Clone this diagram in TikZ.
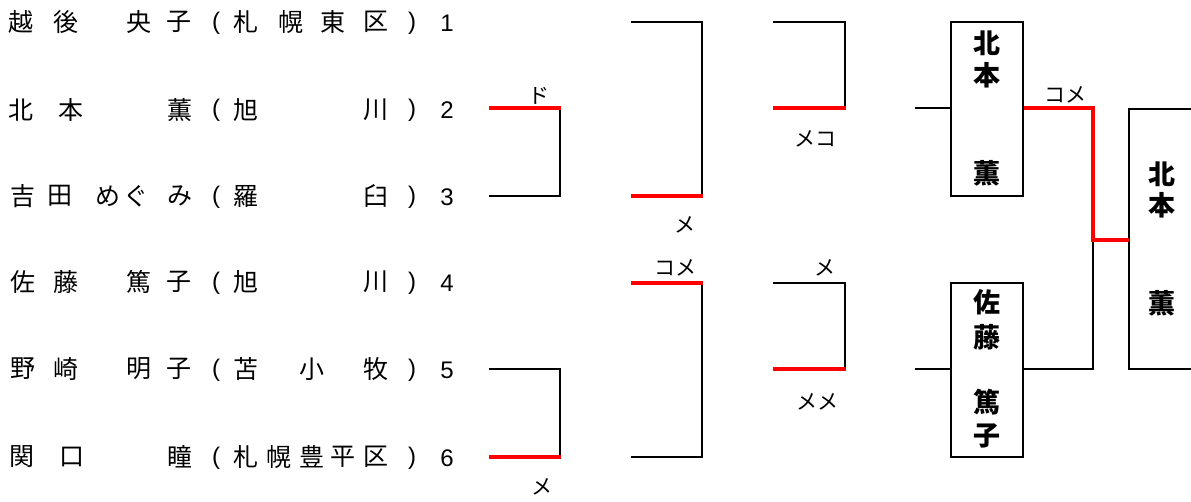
\documentclass[tikz,border=0pt]{standalone}
\usepackage{fontspec}
\newfontfamily\jp{Noto Sans CJK JP}
\newfontfamily\lat{Liberation Sans}
\begin{document}
\begin{tikzpicture}[x=1pt,y=-1pt,
  nm/.style={font=\jp\fontsize{25}{25}\selectfont, inner sep=0pt, anchor=center},
  pr/.style={font=\lat\fontsize{24}{24}\selectfont, inner sep=0pt, anchor=center},
  lb/.style={font=\jp\fontsize{21}{21}\selectfont, inner sep=0pt, anchor=center},
  bx/.style={font=\jp\bfseries\fontsize{27}{27}\selectfont, inner sep=0pt, anchor=center},
  bk/.style={draw=black, line width=2.4pt},
  rd/.style={draw=red, line width=3.6pt},
  box/.style={draw=black, line width=2.4pt, rectangle, inner sep=0pt}]
\useasboundingbox (0,0) rectangle (1191,501);
\fill[white] (0,0) rectangle (1191,501);
% names
\foreach \x/\c [count=\i] in {21/越,66/後,139/央,179/子,246/札,291/幌,333/東,376/区}
  \node[nm] (ra\i) at (\x,22) {\c};
\foreach \x/\c [count=\i] in {21/北,71/本,180/薫,246/旭,376/川}
  \node[nm] (rb\i) at (\x,110) {\c};
\foreach \x/\c [count=\i] in {23/吉,60/田,108/め,136/ぐ,180/み,246/羅,376/臼}
  \node[nm] (rc\i) at (\x,196) {\c};
\foreach \x/\c [count=\i] in {23/佐,66/藤,139/篤,179/子,246/旭,376/川}
  \node[nm] (rd\i) at (\x,282) {\c};
\foreach \x/\c [count=\i] in {23/野,66/崎,139/明,179/子,246/苫,312/小,376/牧}
  \node[nm] (re\i) at (\x,369) {\c};
\foreach \x/\c [count=\i] in {22/関,72/口,180/瞳,246/札,279/幌,312/豊,343/平,376/区}
  \node[nm] (rf\i) at (\x,457) {\c};
\foreach \y [count=\i] in {23,110,197,283,370,458} {
  \node[pr] (lp\i) at (216,\y) {(};
  \node[pr] (rp\i) at (412,\y) {)};
  \node[pr] (no\i) at (447,\y) {\i};
}
% coordinates
\coordinate (a1) at (489,108); \coordinate (a2) at (560,108);
\coordinate (a3) at (489,196); \coordinate (a4) at (560,196);
\coordinate (b1) at (489,369); \coordinate (b2) at (560,369);
\coordinate (b3) at (489,457); \coordinate (b4) at (560,457);
\coordinate (c1) at (631,22); \coordinate (c2) at (702,22);
\coordinate (c3) at (631,196); \coordinate (c4) at (702,196);
\coordinate (d1) at (631,283); \coordinate (d2) at (702,283);
\coordinate (d3) at (631,457); \coordinate (d4) at (702,457);
\coordinate (e1) at (773,22); \coordinate (e2) at (845,22);
\coordinate (e3) at (773,108); \coordinate (e4) at (845,108);
\coordinate (f1) at (773,283); \coordinate (f2) at (845,283);
\coordinate (f3) at (773,369); \coordinate (f4) at (845,369);
% round 1
\draw[bk] (a2) -- (a4) -- (a3);
\draw[rd] (a1) -- ([xshift=1.2pt]a2);
\draw[bk] (b1) -- (b2) -- (b4);
\draw[rd] (b3) -- ([xshift=1.2pt]b4);
% round 2
\draw[bk] (c1) -- (c2) -- (c4);
\draw[rd] (c3) -- ([xshift=1.2pt]c4);
\draw[bk] (d2) -- (d4) -- (d3);
\draw[rd] (d1) -- ([xshift=1.2pt]d2);
% round 3
\draw[bk] (e1) -- (e2) -- (e4);
\draw[rd] (e3) -- ([xshift=1.2pt]e4);
\draw[bk] (f1) -- (f2) -- (f4);
\draw[rd] (f3) -- ([xshift=1.2pt]f4);
% labels
\node[lb] (l1) at (539,96) {ド};
\node[lb] (l2) at (685,225) {メ};
\node[lb] (l3) at (675,268) {コメ};
\node[lb] (l4) at (815,139) {メコ};
\node[lb] (l5) at (825,268) {メ};
\node[lb] (l6) at (817,402) {メメ};
\node[lb] (l7) at (542,487) {メ};
\node[lb] (l8) at (1065,95) {コメ};
% boxes
\node[box, minimum width=72pt, minimum height=174pt] (k1) at (987,109) {};
\node[box, minimum width=72pt, minimum height=174pt] (k2) at (987,370) {};
\coordinate (g1) at (915,108); \coordinate (g2) at (915,369);
\draw[bk] (g1) -- (k1.west |- g1);
\draw[bk] (g2) -- (k2.west |- g2);
\coordinate (h1) at (1093,108); \coordinate (h2) at (1093,240);
\coordinate (h3) at (1093,369); \coordinate (h4) at (1129,240);
\coordinate (fa) at (1200,109); \coordinate (fb) at (1129,109);
\coordinate (fc) at (1129,369); \coordinate (fd) at (1200,369);
\draw[bk] (k2.east |- h3) -- (h3) -- (h2);
\draw[bk] (fa) -- (fb) -- (fc) -- (fd);
\draw[rd, line join=miter] (k1.east |- h1) -- (h1) -- (h2) -- (h4);
% box texts
\node[bx] (t1) at (987,43) {北};
\node[bx] (t2) at (987,75) {本};
\node[bx] (t3) at (987,173) {薫};
\node[bx] (t4) at (987,302) {佐};
\node[bx] (t5) at (987,337) {藤};
\node[bx] (t6) at (987,402) {篤};
\node[bx] (t7) at (987,436) {子};
\node[bx] (t8) at (1162,174) {北};
\node[bx] (t9) at (1162,205) {本};
\node[bx] (t10) at (1162,303) {薫};
\end{tikzpicture}
\end{document}
